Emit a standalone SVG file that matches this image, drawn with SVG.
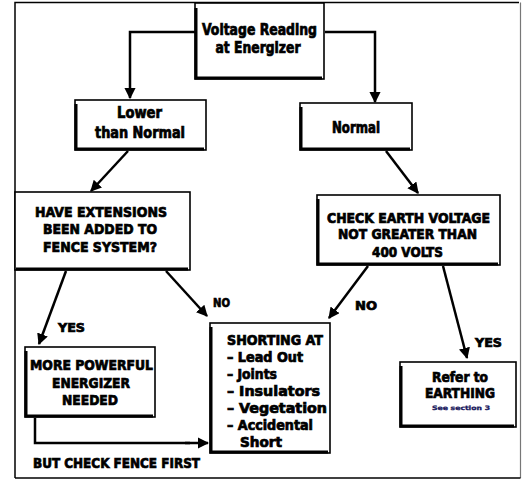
<svg xmlns="http://www.w3.org/2000/svg" width="522" height="481" viewBox="0 0 522 481">
<defs>
<marker id="ah" viewBox="0 0 10 10" refX="9" refY="5" markerWidth="4.5" markerHeight="4.5" orient="auto" markerUnits="strokeWidth">
<path d="M0,0 L10,5 L0,10 z" fill="#000"/>
</marker>
<style>
.bx{fill:#fff;stroke:#000;stroke-width:1.6}
.sh{fill:none;stroke:#000;stroke-width:3}
.t{font-family:"DejaVu Sans Condensed","DejaVu Sans","Liberation Sans",sans-serif;font-weight:bold;fill:#000;stroke:#000;stroke-width:0.7;text-anchor:middle}
.tl{font-family:"DejaVu Sans Condensed","DejaVu Sans","Liberation Sans",sans-serif;font-weight:bold;fill:#000;stroke:#000;stroke-width:0.7}
.c{fill:none;stroke:#000;stroke-width:2.5;marker-end:url(#ah)}
.p{fill:none;stroke:#000;stroke-width:2.5}
</style>
</defs>
<rect width="522" height="481" fill="#fff"/>
<g id="frame">
<path d="M15,478 L15,2.5 L519,2.5" fill="none" stroke="#000" stroke-width="1.5"/>
<path d="M520.5,2.5 L520.5,478" fill="none" stroke="#777" stroke-width="1.2"/>
<path d="M15,478 L520.5,478" fill="none" stroke="#000" stroke-width="1.5"/>
</g>
<g id="connectors">
<path class="c" d="M195,32 L130,32 L130,98"/>
<path class="c" d="M325,32 L375,32 L375,102"/>
<path class="c" d="M128,151 L91,191"/>
<path class="c" d="M386,151 L418,193"/>
<path class="c" d="M66,271 L39,344"/>
<path class="c" d="M166,271 L207,316"/>
<path class="c" d="M368,266 L329,318"/>
<path class="c" d="M443,266 L467,358"/>
<path class="p" d="M35,418 L35,443 L190,443"/>
<path class="c" d="M185,443 L208,443"/>
</g>
<g id="n-voltage">
<rect class="bx" x="195" y="3" width="129" height="76"/>
<path class="sh" d="M196,8 L196,78 L322,78"/>
<text class="t" x="259.5" y="35" font-size="15" textLength="115" lengthAdjust="spacingAndGlyphs">Voltage Reading</text>
<text class="t" x="258" y="53" font-size="15" textLength="85" lengthAdjust="spacingAndGlyphs">at Energizer</text>
</g>
<g id="n-lower">
<rect class="bx" x="75" y="100" width="131" height="50"/>
<path class="sh" d="M76,104 L76,149 L204,149"/>
<text class="t" x="139.5" y="118" font-size="15" textLength="45" lengthAdjust="spacingAndGlyphs">Lower</text>
<text class="t" x="140" y="138" font-size="15" textLength="90" lengthAdjust="spacingAndGlyphs">than Normal</text>
</g>
<g id="n-normal">
<rect class="bx" x="300" y="103" width="112" height="47"/>
<path class="sh" d="M301,107 L301,149 L410,149"/>
<text class="t" x="356" y="133" font-size="15" textLength="48" lengthAdjust="spacingAndGlyphs">Normal</text>
</g>
<g id="n-extensions">
<rect class="bx" x="15" y="192" width="175" height="78"/>
<path class="sh" d="M16,269 L188,269"/>
<text class="t" x="101" y="217" font-size="14" textLength="132" lengthAdjust="spacingAndGlyphs">HAVE EXTENSIONS</text>
<text class="t" x="100" y="234" font-size="14" textLength="114" lengthAdjust="spacingAndGlyphs">BEEN ADDED TO</text>
<text class="t" x="100" y="252" font-size="14" textLength="114" lengthAdjust="spacingAndGlyphs">FENCE SYSTEM?</text>
</g>
<g id="n-check">
<rect class="bx" x="317" y="195" width="183" height="70"/>
<path class="sh" d="M318,199 L318,264 L498,264"/>
<text class="t" x="408.5" y="223" font-size="14" textLength="163" lengthAdjust="spacingAndGlyphs">CHECK EARTH VOLTAGE</text>
<text class="t" x="407.5" y="239" font-size="14" textLength="139" lengthAdjust="spacingAndGlyphs">NOT GREATER THAN</text>
<text class="t" x="407.5" y="257" font-size="14" textLength="71" lengthAdjust="spacingAndGlyphs">400 VOLTS</text>
</g>
<g id="n-more">
<rect class="bx" x="25" y="347" width="130" height="70"/>
<path class="sh" d="M26,351 L26,416 L153,416"/>
<text class="t" x="91.5" y="370" font-size="14" textLength="123" lengthAdjust="spacingAndGlyphs">MORE POWERFUL</text>
<text class="t" x="91" y="388" font-size="14" textLength="78" lengthAdjust="spacingAndGlyphs">ENERGIZER</text>
<text class="t" x="90" y="405" font-size="14" textLength="56" lengthAdjust="spacingAndGlyphs">NEEDED</text>
</g>
<g id="n-shorting">
<rect class="bx" x="210" y="323" width="120" height="130"/>
<path class="sh" d="M211,327 L211,452 L328,452"/>
<text class="tl" x="227" y="345" font-size="14" textLength="96" lengthAdjust="spacingAndGlyphs">SHORTING AT</text>
<text class="tl" x="227" y="362" font-size="14" textLength="76" lengthAdjust="spacingAndGlyphs">– Lead Out</text>
<text class="tl" x="227" y="379" font-size="14" textLength="50" lengthAdjust="spacingAndGlyphs">– Joints</text>
<text class="tl" x="227" y="396" font-size="14" textLength="93" lengthAdjust="spacingAndGlyphs">– Insulators</text>
<text class="tl" x="227" y="413" font-size="14" textLength="100" lengthAdjust="spacingAndGlyphs">– Vegetation</text>
<text class="tl" x="227" y="430" font-size="14" textLength="86" lengthAdjust="spacingAndGlyphs">– Accidental</text>
<text class="tl" x="240" y="447" font-size="14" textLength="42" lengthAdjust="spacingAndGlyphs">Short</text>
</g>
<g id="n-refer">
<rect class="bx" x="400" y="362" width="116" height="65"/>
<path class="sh" d="M401,366 L401,426 L514,426"/>
<text class="t" x="460" y="382" font-size="14" textLength="56" lengthAdjust="spacingAndGlyphs">Refer to</text>
<text class="t" x="460" y="398" font-size="14" textLength="70" lengthAdjust="spacingAndGlyphs">EARTHING</text>
<text class="t" x="461" y="410" font-size="6" style="fill:#1a1a5e;stroke:#1a1a5e;stroke-width:0.3" textLength="58" lengthAdjust="spacingAndGlyphs">See section 3</text>
</g>
<g id="labels">
<text class="tl" x="58" y="332" font-size="13" textLength="27" lengthAdjust="spacingAndGlyphs">YES</text>
<text class="tl" x="213" y="307" font-size="13" textLength="17" lengthAdjust="spacingAndGlyphs">NO</text>
<text class="tl" x="355" y="310" font-size="13" textLength="22" lengthAdjust="spacingAndGlyphs">NO</text>
<text class="tl" x="475" y="347" font-size="13" textLength="27" lengthAdjust="spacingAndGlyphs">YES</text>
<text class="tl" x="33" y="468" font-size="14" textLength="167" lengthAdjust="spacingAndGlyphs">BUT CHECK FENCE FIRST</text>
</g>
</svg>
